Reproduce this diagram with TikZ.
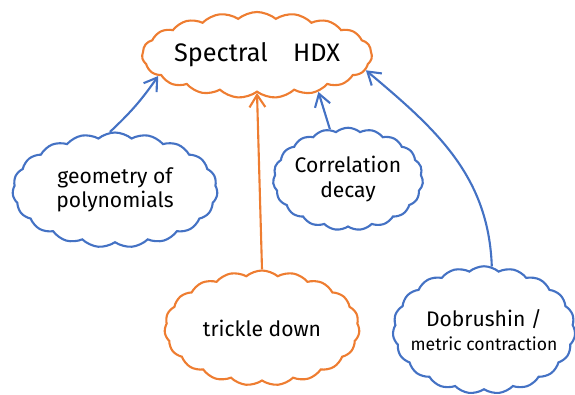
\documentclass[tikz,border=0pt]{standalone}
\usepackage{fontspec}
\setmainfont{Fira Sans}
\usepackage{tikz}
\usetikzlibrary{arrows.meta,shapes.symbols}
\definecolor{corange}{HTML}{EE7D31}
\definecolor{cblue}{HTML}{4472C4}

\begin{document}
\begin{tikzpicture}[
    font=\large,
    cl/.style={cloud,cloud puffs=19,cloud puff arc=80,draw,line width=1.2pt,
               align=center,inner sep=-12pt},
    ocl/.style={cl,draw=corange},
    bcl/.style={cl,draw=cblue},
    barr/.style={-{Straight Barb[length=7pt,width=9pt]},line width=1.2pt,cblue},
    oarr/.style={-{Straight Barb[length=7pt,width=9pt]},line width=1.2pt,corange}
  ]
    \useasboundingbox (0,0) rectangle (11.5,-7.88);

    \node[ocl,minimum width=4.6cm,minimum height=1.72cm,aspect=2.6,font=\Large]
      (hdx) at (5.14,-1.10) {Spectral\quad HDX};
    \node[bcl,minimum width=4.1cm,minimum height=2.3cm,aspect=1.8]
      (geo) at (2.30,-3.80) {geometry of\\polynomials};
    \node[bcl,minimum width=3.0cm,minimum height=2.05cm,aspect=1.45]
      (corr) at (6.96,-3.58) {Correlation\\decay};
    \node[ocl,minimum width=3.9cm,minimum height=2.3cm,aspect=1.65]
      (trk) at (5.24,-6.56) {trickle down};
    \node[bcl,minimum width=3.65cm,minimum height=2.55cm,aspect=1.4]
      (dob) at (9.68,-6.60) {Dobrushin /\\\normalsize metric contraction};

    % Arrows
    \draw[barr] (geo.95) to[bend right=6] (hdx.-168);
    \draw[oarr] (trk.north) -- (hdx.south);
    \draw[barr] (corr.110) -- (hdx.-31);
    \draw[barr] (dob.83) to[out=92,in=-40] (hdx.-8);

  \end{tikzpicture}
\end{document}
